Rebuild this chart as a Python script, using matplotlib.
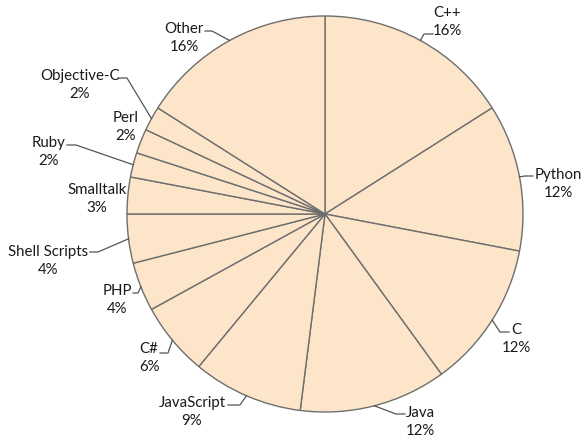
import matplotlib.pyplot as plt
import numpy as np

# 数据：各语言占比（顺时针，从12点方向开始）
languages = ['C++', 'Python', 'C', 'Java', 'JavaScript', 'C#', 'PHP',
             'Shell Scripts', 'Smalltalk', 'Ruby', 'Perl', 'Objective-C', 'Other']
shares = [16, 12, 12, 12, 9, 6, 4, 4, 3, 2, 2, 2, 16]

W, H = 582, 439

# 标签布局（像素坐标，y 向下）：文字中心，引线起点，拐点
text_pos = [(447, 22), (558, 184), (516, 339), (420, 422), (192, 412),
            (149, 358), (117, 300), (48, 261), (97, 199), (49, 152),
            (126, 127), (80, 85), (184, 38)]
leader = [((433, 35), (424, 35)), ((533, 177), (525, 177)),
          ((509, 333), (500, 333)), ((405, 415), (396, 415)),
          ((228, 406), (240, 406)), ((160, 354), (168, 354)),
          ((133, 294), (138, 294)), ((90, 253), (98, 253)),
          None, ((67, 146), (76, 146)), None,
          ((118, 79), (127, 79)), ((205, 32), (212, 32))]


def img(p):
    return p[0], H - p[1]


plt.rcParams['font.family'] = ['Lato', 'DejaVu Sans']

fig = plt.figure(figsize=(W / 100, H / 100), dpi=100)
ax = fig.add_axes([0, 0, 1, 1])

center = img((325, 215))
radius = 198
wedges, _ = ax.pie(shares, startangle=90, counterclock=False,
                   center=center, radius=radius,
                   colors=['#FDE5C9'] * len(shares),
                   wedgeprops=dict(edgecolor='#6e6e6e', linewidth=1.0))

for w, name, v, tp, ld in zip(wedges, languages, shares, text_pos, leader):
    ax.text(*img(tp), f'{name}\n{v}%', ha='center', va='center',
            fontsize=10.8, color='#1a1a1a', linespacing=1.4)
    if ld is None:
        continue
    ang = np.deg2rad((w.theta1 + w.theta2) / 2)
    ex = center[0] + radius * np.cos(ang)
    ey = center[1] + radius * np.sin(ang)
    t, e = img(ld[0]), img(ld[1])
    ax.plot([t[0], e[0], ex], [t[1], e[1], ey], color='#555555', lw=0.9)

ax.set_xlim(0, W)
ax.set_ylim(0, H)
ax.set_aspect('equal')
ax.axis('off')

fig.savefig('out.png', dpi=100)
